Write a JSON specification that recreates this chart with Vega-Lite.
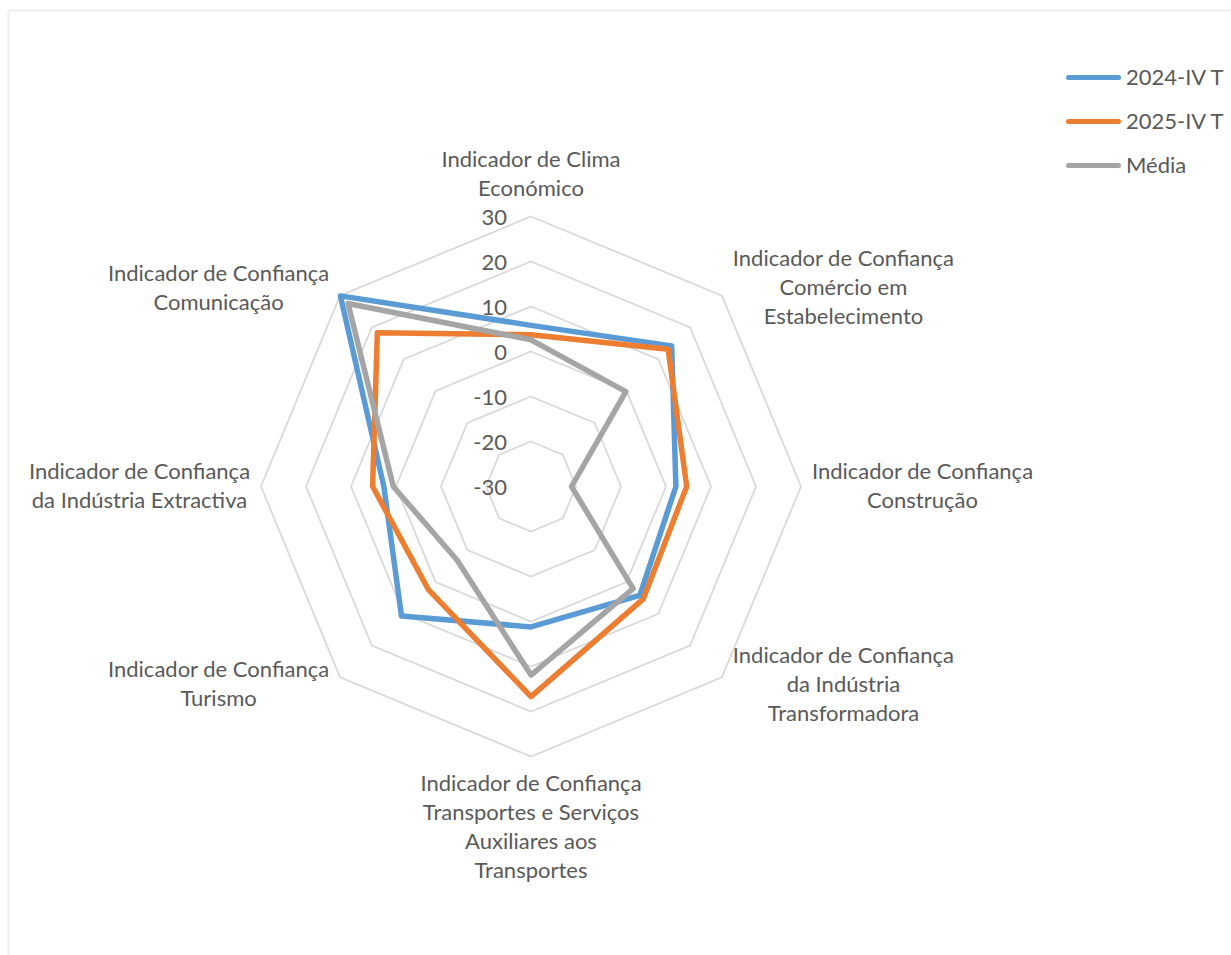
{
  "$schema": "https://vega.github.io/schema/vega-lite/v6.json",
  "width": 1223,
  "height": 945,
  "autosize": "none",
  "padding": {"left": 8, "top": 10, "right": 0, "bottom": 0},
  "background": "white",
  "config": {
    "view": {"stroke": null},
    "font": "Lato",
    "axis": {"labels": false, "ticks": false, "grid": false, "domainColor": "#eeeeee", "domainWidth": 2}
  },
  "datasets": {
    "eixos": [
      {"indicador": "Indicador de Clima Económico", "rotulo": "Indicador de Clima\nEconómico", "ordem": 0},
      {"indicador": "Indicador de Confiança Comércio em Estabelecimento", "rotulo": "Indicador de Confiança\nComércio em\nEstabelecimento", "ordem": 1},
      {"indicador": "Indicador de Confiança Construção", "rotulo": "Indicador de Confiança\nConstrução", "ordem": 2},
      {"indicador": "Indicador de Confiança da Indústria Transformadora", "rotulo": "Indicador de Confiança\nda Indústria\nTransformadora", "ordem": 3},
      {"indicador": "Indicador de Confiança Transportes e Serviços Auxiliares aos Transportes", "rotulo": "Indicador de Confiança\nTransportes e Serviços\nAuxiliares aos\nTransportes", "ordem": 4},
      {"indicador": "Indicador de Confiança Turismo", "rotulo": "Indicador de Confiança\nTurismo", "ordem": 5},
      {"indicador": "Indicador de Confiança da Indústria Extractiva", "rotulo": "Indicador de Confiança\nda Indústria Extractiva", "ordem": 6},
      {"indicador": "Indicador de Confiança Comunicação", "rotulo": "Indicador de Confiança\nComunicação", "ordem": 7}
    ],
    "escala": [
      {"tick": -30}, {"tick": -20}, {"tick": -10}, {"tick": 0}, {"tick": 10}, {"tick": 20}, {"tick": 30}
    ],
    "valores": [
      {"indicador": "Indicador de Clima Económico", "serie": "2024-IV T", "valor": 5.8},
      {"indicador": "Indicador de Confiança Comércio em Estabelecimento", "serie": "2024-IV T", "valor": 14.2},
      {"indicador": "Indicador de Confiança Construção", "serie": "2024-IV T", "valor": 2.2},
      {"indicador": "Indicador de Confiança da Indústria Transformadora", "serie": "2024-IV T", "valor": 4.2},
      {"indicador": "Indicador de Confiança Transportes e Serviços Auxiliares aos Transportes", "serie": "2024-IV T", "valor": 1.2},
      {"indicador": "Indicador de Confiança Turismo", "serie": "2024-IV T", "valor": 10.7},
      {"indicador": "Indicador de Confiança da Indústria Extractiva", "serie": "2024-IV T", "valor": 2.7},
      {"indicador": "Indicador de Confiança Comunicação", "serie": "2024-IV T", "valor": 29.9},
      {"indicador": "Indicador de Clima Económico", "serie": "2025-IV T", "valor": 3.7},
      {"indicador": "Indicador de Confiança Comércio em Estabelecimento", "serie": "2025-IV T", "valor": 13.1},
      {"indicador": "Indicador de Confiança Construção", "serie": "2025-IV T", "valor": 4.6},
      {"indicador": "Indicador de Confiança da Indústria Transformadora", "serie": "2025-IV T", "valor": 5.3},
      {"indicador": "Indicador de Confiança Transportes e Serviços Auxiliares aos Transportes", "serie": "2025-IV T", "valor": 16.7},
      {"indicador": "Indicador de Confiança Turismo", "serie": "2025-IV T", "valor": 2.3},
      {"indicador": "Indicador de Confiança da Indústria Extractiva", "serie": "2025-IV T", "valor": 5.2},
      {"indicador": "Indicador de Confiança Comunicação", "serie": "2025-IV T", "valor": 18.3},
      {"indicador": "Indicador de Clima Económico", "serie": "Média", "valor": 2.6},
      {"indicador": "Indicador de Confiança Comércio em Estabelecimento", "serie": "Média", "valor": -0.2},
      {"indicador": "Indicador de Confiança Construção", "serie": "Média", "valor": -21.0},
      {"indicador": "Indicador de Confiança da Indústria Transformadora", "serie": "Média", "valor": 2.1},
      {"indicador": "Indicador de Confiança Transportes e Serviços Auxiliares aos Transportes", "serie": "Média", "valor": 11.9},
      {"indicador": "Indicador de Confiança Turismo", "serie": "Média", "valor": -6.8},
      {"indicador": "Indicador de Confiança da Indústria Extractiva", "serie": "Média", "valor": 0.6},
      {"indicador": "Indicador de Confiança Comunicação", "serie": "Média", "valor": 27.5}
    ]
  },
  "layer": [
    {
      "data": {"name": "escala"},
      "transform": [
        {"filter": "datum.tick > -30"},
        {"calculate": "[0, 1, 2, 3, 4, 5, 6, 7]", "as": "ordem"},
        {"flatten": ["ordem"]},
        {"calculate": "datum.ordem * PI / 4", "as": "a"},
        {"calculate": "(datum.tick + 30) * sin(datum.a)", "as": "px"},
        {"calculate": "(datum.tick + 30) * cos(datum.a)", "as": "py"}
      ],
      "mark": {"type": "line", "interpolate": "linear-closed", "stroke": "#d9d9d9", "strokeWidth": 1.8},
      "encoding": {
        "x": {"field": "px", "type": "quantitative", "title": null, "scale": {"domain": [-116.222, 155.556], "nice": false, "zero": false}, "axis": {"orient": "top"}},
        "y": {"field": "py", "type": "quantitative", "title": null, "scale": {"domain": [-104.111, 105.889], "nice": false, "zero": false}, "axis": {"orient": "left"}},
        "detail": {"field": "tick", "type": "nominal"},
        "order": {"field": "ordem", "type": "quantitative"}
      }
    },
    {
      "data": {"name": "escala"},
      "transform": [
        {"calculate": "0", "as": "px"},
        {"calculate": "datum.tick + 30", "as": "py"}
      ],
      "mark": {"type": "text", "align": "right", "baseline": "middle", "dx": -24, "dy": 1, "fontSize": 22, "color": "#595959", "font": "Lato"},
      "encoding": {
        "x": {"field": "px", "type": "quantitative", "title": null, "scale": {"domain": [-116.222, 155.556], "nice": false, "zero": false}, "axis": {"orient": "top"}},
        "y": {"field": "py", "type": "quantitative", "title": null, "scale": {"domain": [-104.111, 105.889], "nice": false, "zero": false}, "axis": {"orient": "left"}},
        "text": {"field": "tick", "type": "nominal"}
      }
    },
    {
      "data": {"name": "valores"},
      "transform": [
        {"lookup": "indicador", "from": {"data": {"name": "eixos"}, "key": "indicador", "fields": ["ordem"]}},
        {"calculate": "datum.ordem * PI / 4", "as": "a"},
        {"calculate": "(datum.valor + 30) * sin(datum.a)", "as": "px"},
        {"calculate": "(datum.valor + 30) * cos(datum.a)", "as": "py"}
      ],
      "mark": {"type": "line", "interpolate": "linear-closed", "strokeWidth": 5.5, "strokeJoin": "round", "strokeCap": "round"},
      "encoding": {
        "x": {"field": "px", "type": "quantitative", "title": null, "scale": {"domain": [-116.222, 155.556], "nice": false, "zero": false}, "axis": {"orient": "top"}},
        "y": {"field": "py", "type": "quantitative", "title": null, "scale": {"domain": [-104.111, 105.889], "nice": false, "zero": false}, "axis": {"orient": "left"}},
        "order": {"field": "ordem", "type": "quantitative"},
        "color": {
          "field": "serie", "type": "nominal",
          "scale": {"domain": ["2024-IV T", "2025-IV T", "Média"], "range": ["#5b9bd5", "#ed7d31", "#a5a5a5"]},
          "legend": {
            "orient": "none", "legendX": 1058, "legendY": 40, "title": null,
            "symbolType": "stroke", "symbolSize": 2500, "symbolStrokeWidth": 5,
            "labelFontSize": 22, "labelColor": "#595959", "labelFont": "Lato", "labelOffset": 5,
            "rowPadding": 5, "padding": 0, "symbolOffset": 0,
            "encode": {"symbols": {"update": {"strokeCap": {"value": "round"}}}}
          }
        }
      }
    },
    {
      "data": {"name": "eixos"},
      "transform": [
        {"calculate": "datum.ordem * PI / 4", "as": "a"},
        {"calculate": "sin(datum.a)", "as": "s"},
        {"calculate": "cos(datum.a)", "as": "c"},
        {"calculate": "length(split(datum.rotulo, '\\n'))", "as": "n"},
        {"calculate": "abs(datum.s) < 0.01 ? 0 : 60 * datum.s + (datum.s > 0 ? 27 : -27)", "as": "px"},
        {"calculate": "(abs(datum.s) < 0.01 ? 60 * datum.c + (datum.c > 0 ? 1 : -1) * (2.8 + datum.n * 3.22) : 60 * datum.c + 1.6 * round(datum.c)) + (datum.n - 1) * 3.222", "as": "py"}
      ],
      "mark": {"type": "text", "align": "center", "baseline": "middle", "lineBreak": "\n", "lineHeight": 29, "fontSize": 22, "color": "#595959", "font": "Lato"},
      "encoding": {
        "x": {"field": "px", "type": "quantitative", "title": null, "scale": {"domain": [-116.222, 155.556], "nice": false, "zero": false}, "axis": {"orient": "top"}},
        "y": {"field": "py", "type": "quantitative", "title": null, "scale": {"domain": [-104.111, 105.889], "nice": false, "zero": false}, "axis": {"orient": "left"}},
        "text": {"field": "rotulo", "type": "nominal"}
      }
    }
  ]
}
